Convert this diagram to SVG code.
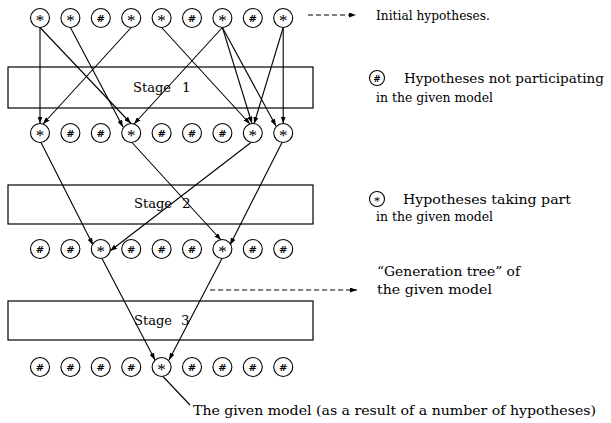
<svg xmlns="http://www.w3.org/2000/svg" width="611" height="423" viewBox="0 0 611 423" font-family="'DejaVu Serif', 'Liberation Serif', serif">
<defs>
<marker id="ah" markerWidth="7" markerHeight="5" refX="7" refY="2.5" orient="auto" markerUnits="userSpaceOnUse"><path d="M0,0 L7,2.5 L0,5 z" fill="#000"/></marker>
<style>
.n{fill:#fff;stroke:#000;stroke-width:1.1}
.s{fill:#000;font-family:'Liberation Serif',serif;font-size:17px;text-anchor:middle}
.h{fill:#000;font-size:10px;font-weight:bold;text-anchor:middle}
.t{fill:#000;font-size:13.5px}
.box{fill:none;stroke:#000;stroke-width:1.2}
.c line{stroke:#000;stroke-width:1.1;fill:none}
.a{marker-end:url(#ah)}
.d{stroke-dasharray:5,3}
</style>
</defs>
<rect width="611" height="423" fill="#fff"/>
<g id="stage1"><rect class="box" x="8" y="67" width="305" height="41"/><text class="t" x="133" y="92" textLength="38" lengthAdjust="spacingAndGlyphs">Stage</text><text class="t" x="182" y="92">1</text></g>
<g id="stage2"><rect class="box" x="8" y="185" width="305" height="39"/><text class="t" x="134" y="208" textLength="38" lengthAdjust="spacingAndGlyphs">Stage</text><text class="t" x="182" y="208">2</text></g>
<g id="stage3"><rect class="box" x="8" y="301" width="305" height="39"/><text class="t" x="134" y="325" textLength="38" lengthAdjust="spacingAndGlyphs">Stage</text><text class="t" x="181" y="325">3</text></g>
<g class="c" id="connectors">
<line class="a" x1="40" y1="27.5" x2="40" y2="123.5"/>
<line class="a" x1="40" y1="27.5" x2="131" y2="123.5"/>
<line class="a" x1="70.4" y1="27.5" x2="123" y2="127"/>
<line class="a" x1="131.2" y1="27.5" x2="43" y2="124"/>
<line class="a" x1="161.6" y1="27.5" x2="250" y2="124"/>
<line class="a" x1="222.4" y1="27.5" x2="134" y2="124"/>
<line class="a" x1="222.4" y1="27.5" x2="252" y2="123.5"/>
<line class="a" x1="222.4" y1="27.5" x2="276" y2="126"/>
<line class="a" x1="283.2" y1="27.5" x2="254" y2="124"/>
<line class="a" x1="283.2" y1="27.5" x2="283.2" y2="123.5"/>
<line class="a" x1="41" y1="142.5" x2="93" y2="245"/>
<line class="a" x1="132" y1="142.5" x2="221" y2="240"/>
<line class="a" x1="251" y1="142.5" x2="110" y2="251"/>
<line class="a" x1="282" y1="142.5" x2="230" y2="245"/>
<line class="a" x1="102" y1="258.5" x2="155" y2="360"/>
<line class="a" x1="222" y1="258.5" x2="169" y2="360"/>
<line x1="163" y1="376.5" x2="190" y2="405"/>
<line class="a d" x1="308" y1="15" x2="356" y2="15"/>
<line class="a d" x1="210" y1="290" x2="357" y2="290"/>
</g>
<g id="row1">
<g id="t0"><circle class="n" cx="40" cy="18" r="9.5"/><text class="s" x="40" y="26">*</text></g>
<g id="t1"><circle class="n" cx="70.4" cy="18" r="9.5"/><text class="s" x="70.4" y="26">*</text></g>
<g id="t2"><circle class="n" cx="100.8" cy="18" r="9.5"/><text class="h" x="100.8" y="22">#</text></g>
<g id="t3"><circle class="n" cx="131.2" cy="18" r="9.5"/><text class="s" x="131.2" y="26">*</text></g>
<g id="t4"><circle class="n" cx="161.6" cy="18" r="9.5"/><text class="s" x="161.6" y="26">*</text></g>
<g id="t5"><circle class="n" cx="192" cy="18" r="9.5"/><text class="h" x="192" y="22">#</text></g>
<g id="t6"><circle class="n" cx="222.4" cy="18" r="9.5"/><text class="s" x="222.4" y="26">*</text></g>
<g id="t7"><circle class="n" cx="252.8" cy="18" r="9.5"/><text class="h" x="252.8" y="22">#</text></g>
<g id="t8"><circle class="n" cx="283.2" cy="18" r="9.5"/><text class="s" x="283.2" y="26">*</text></g>
</g>
<g id="row2">
<g id="r2_0"><circle class="n" cx="40" cy="133" r="9.5"/><text class="s" x="40" y="141">*</text></g>
<g id="r2_1"><circle class="n" cx="70.4" cy="133" r="9.5"/><text class="h" x="70.4" y="137">#</text></g>
<g id="r2_2"><circle class="n" cx="100.8" cy="133" r="9.5"/><text class="h" x="100.8" y="137">#</text></g>
<g id="r2_3"><circle class="n" cx="131.2" cy="133" r="9.5"/><text class="s" x="131.2" y="141">*</text></g>
<g id="r2_4"><circle class="n" cx="161.6" cy="133" r="9.5"/><text class="h" x="161.6" y="137">#</text></g>
<g id="r2_5"><circle class="n" cx="192" cy="133" r="9.5"/><text class="h" x="192" y="137">#</text></g>
<g id="r2_6"><circle class="n" cx="222.4" cy="133" r="9.5"/><text class="h" x="222.4" y="137">#</text></g>
<g id="r2_7"><circle class="n" cx="252.8" cy="133" r="9.5"/><text class="s" x="252.8" y="141">*</text></g>
<g id="r2_8"><circle class="n" cx="283.2" cy="133" r="9.5"/><text class="s" x="283.2" y="141">*</text></g>
</g>
<g id="row3">
<g id="r3_0"><circle class="n" cx="40" cy="249" r="9.5"/><text class="h" x="40" y="253">#</text></g>
<g id="r3_1"><circle class="n" cx="70.4" cy="249" r="9.5"/><text class="h" x="70.4" y="253">#</text></g>
<g id="r3_2"><circle class="n" cx="100.8" cy="249" r="9.5"/><text class="s" x="100.8" y="257">*</text></g>
<g id="r3_3"><circle class="n" cx="131.2" cy="249" r="9.5"/><text class="h" x="131.2" y="253">#</text></g>
<g id="r3_4"><circle class="n" cx="161.6" cy="249" r="9.5"/><text class="h" x="161.6" y="253">#</text></g>
<g id="r3_5"><circle class="n" cx="192" cy="249" r="9.5"/><text class="h" x="192" y="253">#</text></g>
<g id="r3_6"><circle class="n" cx="222.4" cy="249" r="9.5"/><text class="s" x="222.4" y="257">*</text></g>
<g id="r3_7"><circle class="n" cx="252.8" cy="249" r="9.5"/><text class="h" x="252.8" y="253">#</text></g>
<g id="r3_8"><circle class="n" cx="283.2" cy="249" r="9.5"/><text class="h" x="283.2" y="253">#</text></g>
</g>
<g id="row4">
<g id="r4_0"><circle class="n" cx="40" cy="367" r="9.5"/><text class="h" x="40" y="371">#</text></g>
<g id="r4_1"><circle class="n" cx="70.4" cy="367" r="9.5"/><text class="h" x="70.4" y="371">#</text></g>
<g id="r4_2"><circle class="n" cx="100.8" cy="367" r="9.5"/><text class="h" x="100.8" y="371">#</text></g>
<g id="r4_3"><circle class="n" cx="131.2" cy="367" r="9.5"/><text class="h" x="131.2" y="371">#</text></g>
<g id="r4_4"><circle class="n" cx="161.6" cy="367" r="9.5"/><text class="s" x="161.6" y="375">*</text></g>
<g id="r4_5"><circle class="n" cx="192" cy="367" r="9.5"/><text class="h" x="192" y="371">#</text></g>
<g id="r4_6"><circle class="n" cx="222.4" cy="367" r="9.5"/><text class="h" x="222.4" y="371">#</text></g>
<g id="r4_7"><circle class="n" cx="252.8" cy="367" r="9.5"/><text class="h" x="252.8" y="371">#</text></g>
<g id="r4_8"><circle class="n" cx="283.2" cy="367" r="9.5"/><text class="h" x="283.2" y="371">#</text></g>
</g>
<g id="label-initial"><text class="t" x="376" y="20" textLength="114" lengthAdjust="spacingAndGlyphs">Initial  hypotheses.</text></g>
<g id="legend-not">
<circle class="n" cx="377" cy="78" r="7.5"/><text class="h" x="377" y="81.5" style="font-size:9px">#</text>
<text class="t" x="404" y="83" textLength="200" lengthAdjust="spacingAndGlyphs">Hypotheses not participating</text>
<text class="t" x="376" y="102" textLength="117" lengthAdjust="spacingAndGlyphs">in the given model</text>
</g>
<g id="legend-taking">
<circle class="n" cx="377" cy="199" r="7.5"/><text class="s" x="377" y="205" style="font-size:13px">*</text>
<text class="t" x="403" y="204" textLength="168" lengthAdjust="spacingAndGlyphs">Hypotheses taking part</text>
<text class="t" x="376" y="221" textLength="117" lengthAdjust="spacingAndGlyphs">in the given model</text>
</g>
<g id="label-tree">
<text class="t" x="377" y="276" textLength="143" lengthAdjust="spacingAndGlyphs">“Generation tree” of</text>
<text class="t" x="377" y="294" textLength="115" lengthAdjust="spacingAndGlyphs">the given model</text>
</g>
<g id="label-model"><text class="t" x="193" y="415" textLength="403" lengthAdjust="spacingAndGlyphs">The given model (as a result of a number of hypotheses)</text></g>
</svg>
